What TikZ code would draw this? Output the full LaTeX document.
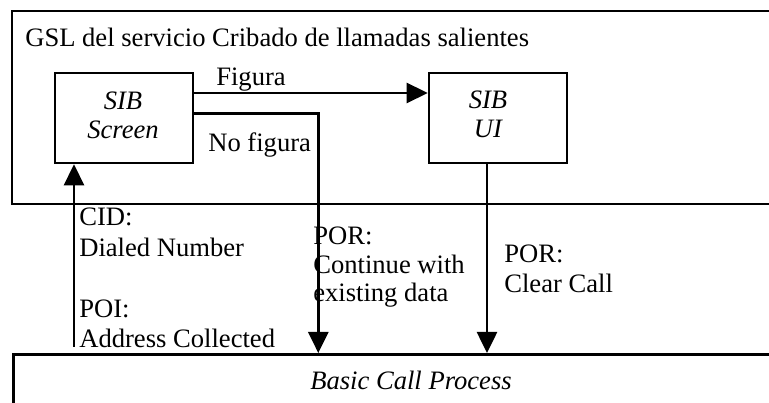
\documentclass[tikz,border=0pt]{standalone}
\usepackage{fontspec}
\setmainfont{Liberation Serif}
\usetikzlibrary{arrows.meta}
\begin{document}
\begin{tikzpicture}[x=1pt, y=-1pt,
  line width=2.6pt,
  every node/.style={inner sep=0pt, font=\fontsize{26.6}{30.5}\selectfont},
  sibbox/.style={draw, rectangle, minimum width=138pt, minimum height=90pt},
  sibtext/.style={anchor=base, align=center, font=\fontsize{26.6}{29}\selectfont\itshape},
  flow/.style={-{Triangle[length=21pt,width=20pt]}},
  lbl/.style={anchor=base west, align=left}]
\useasboundingbox (0,0) rectangle (769,403);

% Service logic frame (open on the right)
\draw (790,11) -| (12,204) -- (790,204);
\node[anchor=base west] (title) at (24,46.7) {GSL del servicio Cribado de llamadas salientes};

% Basic call process frame
\node[draw, anchor=north west, minimum width=800pt, minimum height=70pt] (bcp) at (12,353) {};
\node[anchor=base, font=\fontsize{26.6}{30.5}\selectfont\itshape] (bcptext) at (411,390) {Basic Call Process};

% Service independent blocks (multi-line text is placed by its last baseline)
\node[sibbox] (screen) at (124,118) {};
\node[sibtext] (screentext) at (123,139) {SIB\\Screen};
\node[sibbox] (ui) at (498,118) {};
\node[sibtext] (uitext) at (488,138) {SIB\\UI};

% Flows between the blocks
\draw[flow] ([yshift=25pt]screen.east) -- ([yshift=25pt]ui.west);
\node[anchor=base west] (fig) at (215,86) {Figura};
\draw[flow] ([yshift=4.7pt]screen.east) -| ([xshift=-95pt]bcp.north);
\node[anchor=base west] (nofig) at (207,152) {No figura};

% Points of interaction and return
\coordinate (cidfoot) at (74,347);
\draw[flow] (cidfoot) -- (cidfoot |- screen.south);
\draw[flow] ([xshift=-11pt]ui.south) -- ([xshift=-11pt]ui.south |- bcp.north);

\node[lbl] (cid) at (78,256.5) {CID:\\Dialed Number};
\node[lbl] (poi) at (78,348) {POI:\\Address Collected};
\node[lbl, font=\fontsize{26.6}{28.5}\selectfont] (porcont) at (312,302) {POR:\\Continue with\\existing data};
\node[lbl, font=\fontsize{26.6}{30}\selectfont] (porclear) at (503,293) {POR:\\Clear Call};
\end{tikzpicture}
\end{document}
